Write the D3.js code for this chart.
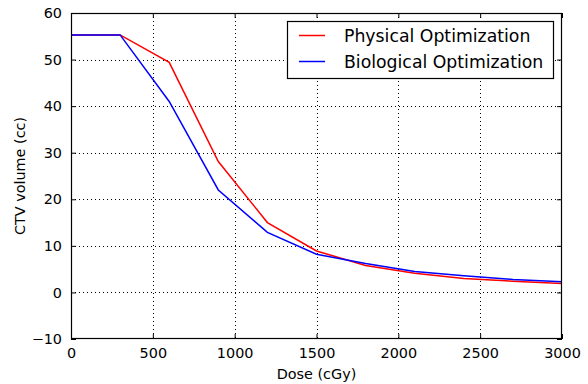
<!DOCTYPE html>
<html><head><meta charset="utf-8">
<script src="https://cdn.jsdelivr.net/npm/d3@7"></script>
<style>body{margin:0;background:#fff}svg{font-family:"DejaVu Sans",sans-serif}</style>
</head><body>
<svg id="c" width="588" height="384"></svg>
<script>
const doses = [0, 300, 600, 900, 1200, 1500, 1800, 2100, 2400, 2700, 3000];
const physical = [55.3, 55.3, 49.4, 28.1, 15.0, 8.9, 5.8, 4.1, 3.0, 2.4, 1.9];
const biological = [55.3, 55.3, 41.0, 22.0, 12.9, 8.2, 6.2, 4.5, 3.6, 2.8, 2.3];
const xTicks = [0, 500, 1000, 1500, 2000, 2500, 3000];
const yTicks = [-10, 0, 10, 20, 30, 40, 50, 60];
const seriesNames = ["Physical Optimization", "Biological Optimization"];
const seriesColors = ["#ff0000", "#0000ff"];

const svg = d3.select("#c");
const L = 71, R = 562, T = 13, B = 339;
const x = d3.scaleLinear().domain([0, 3000]).range([L, R]);
const y = d3.scaleLinear().domain([-10, 60]).range([B, T]);

// grid
const g = svg.append("g");
g.selectAll(".gx").data(xTicks.slice(1, -1)).join("line")
  .attr("x1", d => Math.round(x(d)) + 0.5).attr("x2", d => Math.round(x(d)) + 0.5)
  .attr("y1", T).attr("y2", B).attr("stroke", "#000").attr("stroke-dasharray", "1,3");
g.selectAll(".gy").data(yTicks.slice(1, -1)).join("line")
  .attr("y1", d => Math.round(y(d)) + 0.5).attr("y2", d => Math.round(y(d)) + 0.5)
  .attr("x1", L).attr("x2", R).attr("stroke", "#000").attr("stroke-dasharray", "1,3");

// lines
const line = d3.line().x((d, i) => x(doses[i])).y(d => y(d));
[physical, biological].forEach((s, i) => {
  svg.append("path").attr("d", line(s)).attr("fill", "none")
    .attr("stroke", seriesColors[i]).attr("stroke-width", 1.5);
});

// axes with inward ticks
const fs = "14.4px";
const ax = svg.append("g").attr("transform", `translate(0,${B})`)
  .call(d3.axisBottom(x).tickValues(xTicks).tickSizeInner(-5).tickSizeOuter(0).tickPadding(9).tickFormat(d => String(d)));
const axt = svg.append("g").attr("transform", `translate(0,${T})`)
  .call(d3.axisTop(x).tickValues(xTicks).tickSizeInner(-5).tickSizeOuter(0).tickFormat(""));
const ay = svg.append("g").attr("transform", `translate(${L},0)`)
  .call(d3.axisLeft(y).tickValues(yTicks).tickSizeInner(-5).tickSizeOuter(0).tickPadding(9)
    .tickFormat(d => d < 0 ? "\u2212" + Math.abs(d) : String(d)));
const ayr = svg.append("g").attr("transform", `translate(${R},0)`)
  .call(d3.axisRight(y).tickValues(yTicks).tickSizeInner(-5).tickSizeOuter(0).tickFormat(""));
[ax, axt, ay, ayr].forEach(a => {
  a.select(".domain").remove();
  a.selectAll("line").attr("stroke", "#000");
  a.selectAll("text").attr("font-size", fs).attr("fill", "#000").attr("font-family", "DejaVu Sans");
});
svg.append("rect").attr("x", L + 0.5).attr("y", T + 0.5).attr("width", R - L - 1).attr("height", B - T - 1)
  .attr("fill", "none").attr("stroke", "#000").attr("stroke-width", 1.2);

// axis labels
svg.append("text").attr("x", (L + R) / 2).attr("y", 379).attr("text-anchor", "middle")
  .attr("font-size", fs).text("Dose (cGy)");
svg.append("text").attr("transform", `translate(25,${(T + B) / 2}) rotate(-90)`)
  .attr("text-anchor", "middle").attr("font-size", fs).text("CTV volume (cc)");

// legend
const lg = svg.append("g");
lg.append("rect").attr("x", 287.5).attr("y", 21.5).attr("width", 266).attr("height", 57)
  .attr("fill", "#fff").attr("stroke", "#000").attr("stroke-width", 1.2);
seriesNames.forEach((n, i) => {
  const yy = 35.5 + i * 26;
  lg.append("line").attr("x1", 299).attr("x2", 325).attr("y1", yy).attr("y2", yy)
    .attr("stroke", seriesColors[i]).attr("stroke-width", 1.5);
  lg.append("text").attr("x", 344).attr("y", yy).attr("dy", "0.35em")
    .attr("font-size", "17.3px").text(n);
});
</script>
</body></html>
